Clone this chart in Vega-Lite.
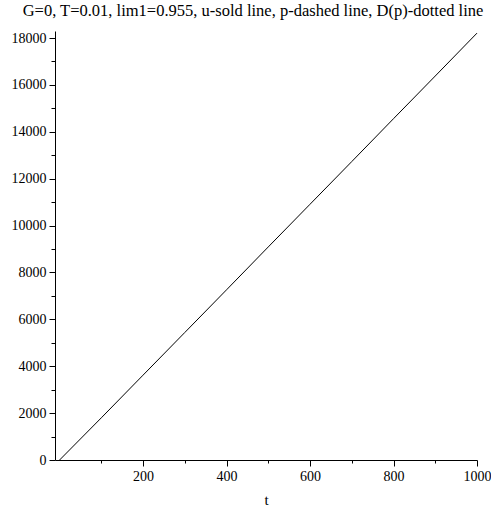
{
  "$schema": "https://vega.github.io/schema/vega-lite/v6.json",
  "autosize": {"type": "none"},
  "padding": {"left": 55, "top": 31, "right": 14, "bottom": 48},
  "width": 422,
  "height": 429,
  "background": "white",
  "config": {
    "view": {"stroke": null},
    "font": "Liberation Serif",
    "axis": {
      "labelFont": "Liberation Serif",
      "labelFontSize": 14,
      "labelColor": "black",
      "titleFont": "Liberation Serif",
      "titleFontSize": 15,
      "titleFontWeight": "normal",
      "titleColor": "black",
      "domainColor": "black",
      "tickColor": "black",
      "grid": false
    }
  },
  "title": {
    "text": "G=0, T=0.01, lim1=0.955, u-sold line, p-dashed line, D(p)-dotted line",
    "font": "Liberation Serif",
    "fontSize": 16.5,
    "fontWeight": "normal",
    "color": "black",
    "anchor": "middle",
    "dx": -13,
    "offset": 12
  },
  "data": {
    "values": [
      {"t": 0, "u": 0},
      {"t": 100, "u": 1800},
      {"t": 200, "u": 3620},
      {"t": 300, "u": 5440},
      {"t": 400, "u": 7260},
      {"t": 500, "u": 9090},
      {"t": 600, "u": 10910},
      {"t": 700, "u": 12730},
      {"t": 800, "u": 14560},
      {"t": 900, "u": 16380},
      {"t": 1000, "u": 18210}
    ]
  },
  "layer": [
    {
      "mark": {"type": "line", "color": "black", "strokeWidth": 1},
      "encoding": {
        "x": {
          "field": "t", "type": "quantitative",
          "scale": {"domain": [-11, 1000], "nice": false, "zero": false},
          "axis": {"orient": "bottom", "title": "t", "format": "d", "values": [200, 400, 600, 800, 1000], "tickSize": 6, "labelPadding": 3, "titlePadding": 9, "labelFlush": false, "labelOverlap": false}
        },
        "y": {
          "field": "u", "type": "quantitative",
          "scale": {"domain": [0, 18300], "nice": false},
          "axis": {"orient": "left", "title": null, "format": "d", "values": [0, 2000, 4000, 6000, 8000, 10000, 12000, 14000, 16000, 18000], "tickSize": 6, "labelPadding": 3, "labelFlush": false, "labelOverlap": false}
        }
      }
    },
    {
      "mark": {"type": "line", "opacity": 0},
      "encoding": {
        "x": {
          "field": "t", "type": "quantitative",
          "axis": {"orient": "bottom", "title": null, "labels": false, "domain": false, "values": [100, 300, 500, 700, 900], "tickSize": 3}
        },
        "y": {
          "field": "u", "type": "quantitative",
          "axis": {"orient": "left", "title": null, "labels": false, "domain": false, "values": [1000, 3000, 5000, 7000, 9000, 11000, 13000, 15000, 17000], "tickSize": 4}
        }
      }
    }
  ],
  "resolve": {"axis": {"x": "independent", "y": "independent"}}
}
